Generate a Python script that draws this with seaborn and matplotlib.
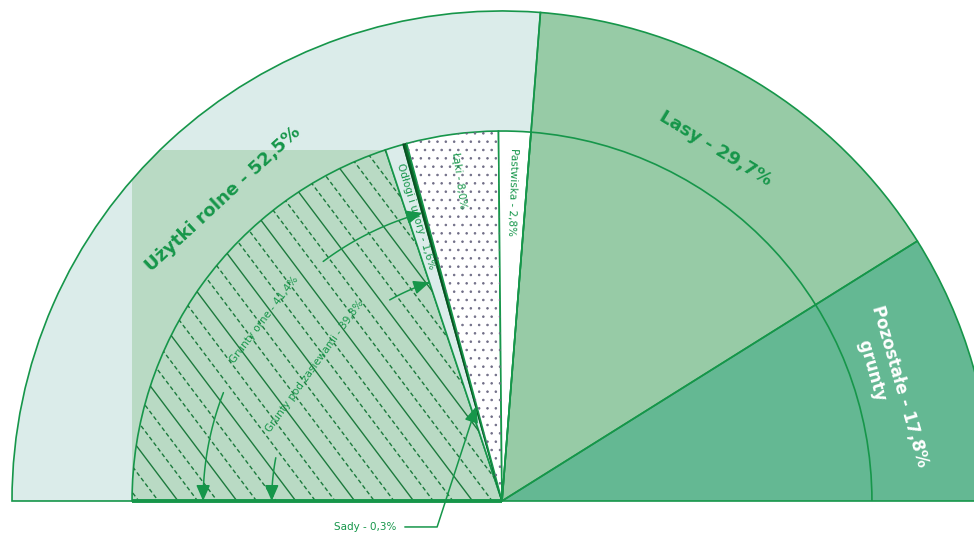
import numpy as np
import matplotlib.pyplot as plt
import seaborn as sns
from matplotlib.patches import Wedge, Rectangle, Arc, FancyArrowPatch
from matplotlib.path import Path

sns.set_theme(style="white")
plt.rcParams['font.family'] = ['DejaVu Sans']
plt.rcParams['hatch.linewidth'] = 0.6

# struktura gruntów (% powierzchni)
main_names = ['Użytki rolne', 'Lasy', 'Pozostałe']
main_share = [52.5, 29.7, 17.8]

# podział użytków rolnych
agri_names = ['Grunty pod zasiewami', 'Odłogi i ugory', 'Sady', 'Łąki', 'Pastwiska']
agri_share = [39.8, 1.6, 0.3, 8.0, 2.8]

arable_name = 'Grunty orne'
arable_share = 41.4

GREEN = '#16964a'
main_colors = ['#dbecea', '#97cba6', '#64b893']
agri_colors = ['#b9dac4', '#dbecea', '#0d6b2d', 'white', 'white']
R_OUT, R_IN = 1.0, 0.755
DEG = 180 / 100  # stopnie na 1% powierzchni
ARROW = '-|>,head_length=0.8,head_width=0.35'


def pct(v):
    return f'{v:.1f}'.replace('.', ',') + '%'


def spans(shares):
    ends = 180 - np.cumsum(shares) * DEG
    return ends + np.array(shares) * DEG, ends


def polar(r, a):
    return r * np.cos(np.radians(a)), r * np.sin(np.radians(a))


fig = plt.figure(figsize=(9.74, 5.35), dpi=100)
ax = fig.add_axes([0, 0, 1, 1])
ax.set_xlim(-1.0245, 0.9633)
ax.set_ylim(-0.0694, 1.0224)
ax.axis('off')

# zewnętrzny półokrąg
m_start, m_end = spans(main_share)
outer = []
for s, e, c in zip(m_start, m_end, main_colors):
    w = Wedge((0, 0), R_OUT, e, s, facecolor=c, edgecolor='none')
    ax.add_patch(w)
    outer.append(w)

a_start, a_end = spans(agri_share)

# prostokąt tła pod gruntami ornymi (jak w oryginale)
x_right, y_top = polar(R_IN, a_end[0])
rect = Rectangle((-R_IN, 0), x_right + R_IN, y_top, facecolor=agri_colors[0], edgecolor='none')
ax.add_patch(rect)
rect.set_clip_path(outer[0])

ax.add_patch(Arc((0, 0), 2 * R_IN, 2 * R_IN, theta1=0, theta2=m_end[0], color=GREEN, lw=1.2))

# wewnętrzny podział użytków rolnych
inner = []
for i, (s, e, c) in enumerate(zip(a_start, a_end, agri_colors)):
    ec = '#0a4f22' if agri_names[i] == 'Sady' else GREEN
    w = Wedge((0, 0), R_IN, e, s, facecolor=c, edgecolor=ec, lw=1.2)
    ax.add_patch(w)
    inner.append(w)

# kropki na łąkach
ax.add_patch(Wedge((0, 0), R_IN, a_end[3], a_start[3], fill=False, hatch='..',
                   edgecolor='#6f6d86', lw=0))

# pasy pól na gruntach pod zasiewami
d = np.array([np.cos(np.radians(-53)), np.sin(np.radians(-53))])
n = np.array([-d[1], d[0]])
styles = ['-', (0, (3, 2)), (0, (3, 2))]
for k, off in enumerate(np.arange(-1.2, 1.2, 0.032)):
    p = n * off
    ln, = ax.plot([p[0] - 2 * d[0], p[0] + 2 * d[0]], [p[1] - 2 * d[1], p[1] + 2 * d[1]],
                  color='#1c7a3d', lw=1.0, linestyle=styles[k % 3])
    ln.set_clip_path(inner[0])

ax.plot([-R_IN, 0], [0, 0], color=GREEN, lw=2.8, solid_capstyle='butt')

for s, e in zip(m_start, m_end):
    ax.add_patch(Wedge((0, 0), R_OUT, e, s, fill=False, edgecolor=GREEN, lw=1.2))

# etykiety zewnętrzne
for i, (s, e) in enumerate(zip(m_start, m_end)):
    mid = (s + e) / 2
    if i == 2:
        label = f'{main_names[i]} - {pct(main_share[i])}\n     grunty'
        ax.text(*polar(0.823, mid), label, rotation=mid - 90, rotation_mode='anchor',
                ha='center', va='center', multialignment='left', fontsize=12,
                fontweight='bold', color='white', linespacing=1.3)
    else:
        ax.text(*polar(0.84, mid), f'{main_names[i]} - {pct(main_share[i])}',
                rotation=mid - 90, rotation_mode='anchor', ha='center', va='center',
                fontsize=13, fontweight='bold', color=GREEN)


# łuki ze strzałkami: grunty orne i grunty pod zasiewami
def arc_arrow(r, a_from, a_to):
    t = np.radians(np.linspace(a_from, a_to, 60))
    path = Path(np.column_stack([r * np.cos(t), r * np.sin(t)]))
    ax.add_patch(FancyArrowPatch(path=path, arrowstyle=ARROW, mutation_scale=12,
                                 color=GREEN, lw=1.1, zorder=2.5))


arcs = [(f'{arable_name} - {pct(arable_share)}', 0.61, 180 - arable_share * DEG, 16),
        (f'{agri_names[0]} - {pct(agri_share[0])}', 0.47, a_end[0], 25)]
for label, r, end, gap in arcs:
    mid = (180 + end) / 2
    arc_arrow(r, mid + gap, 180)
    arc_arrow(r, mid - gap, end)
    ax.text(*polar(r, mid), label, rotation=mid - 90, rotation_mode='anchor',
            ha='center', va='center', fontsize=7.5, color=GREEN)

# etykiety wzdłuż promieni
for i in [1, 3, 4]:
    mid = (a_start[i] + a_end[i]) / 2
    ax.text(*polar(0.72, mid), f'{agri_names[i]} - {pct(agri_share[i])}',
            rotation=mid - 180, rotation_mode='anchor', ha='left', va='center',
            fontsize=7.5, color=GREEN)

sady_mid = (a_start[2] + a_end[2]) / 2
ax.annotate(f'{agri_names[2]} - {pct(agri_share[2])}', xy=polar(0.2, sady_mid),
            xytext=(-0.28, -0.053), ha='center', va='center', fontsize=7.5, color=GREEN,
            arrowprops=dict(arrowstyle=ARROW, mutation_scale=12, color=GREEN, lw=1.1,
                            connectionstyle='angle,angleA=0,angleB=72,rad=0',
                            shrinkA=4, shrinkB=0))

fig.savefig('out.png', dpi=100)
